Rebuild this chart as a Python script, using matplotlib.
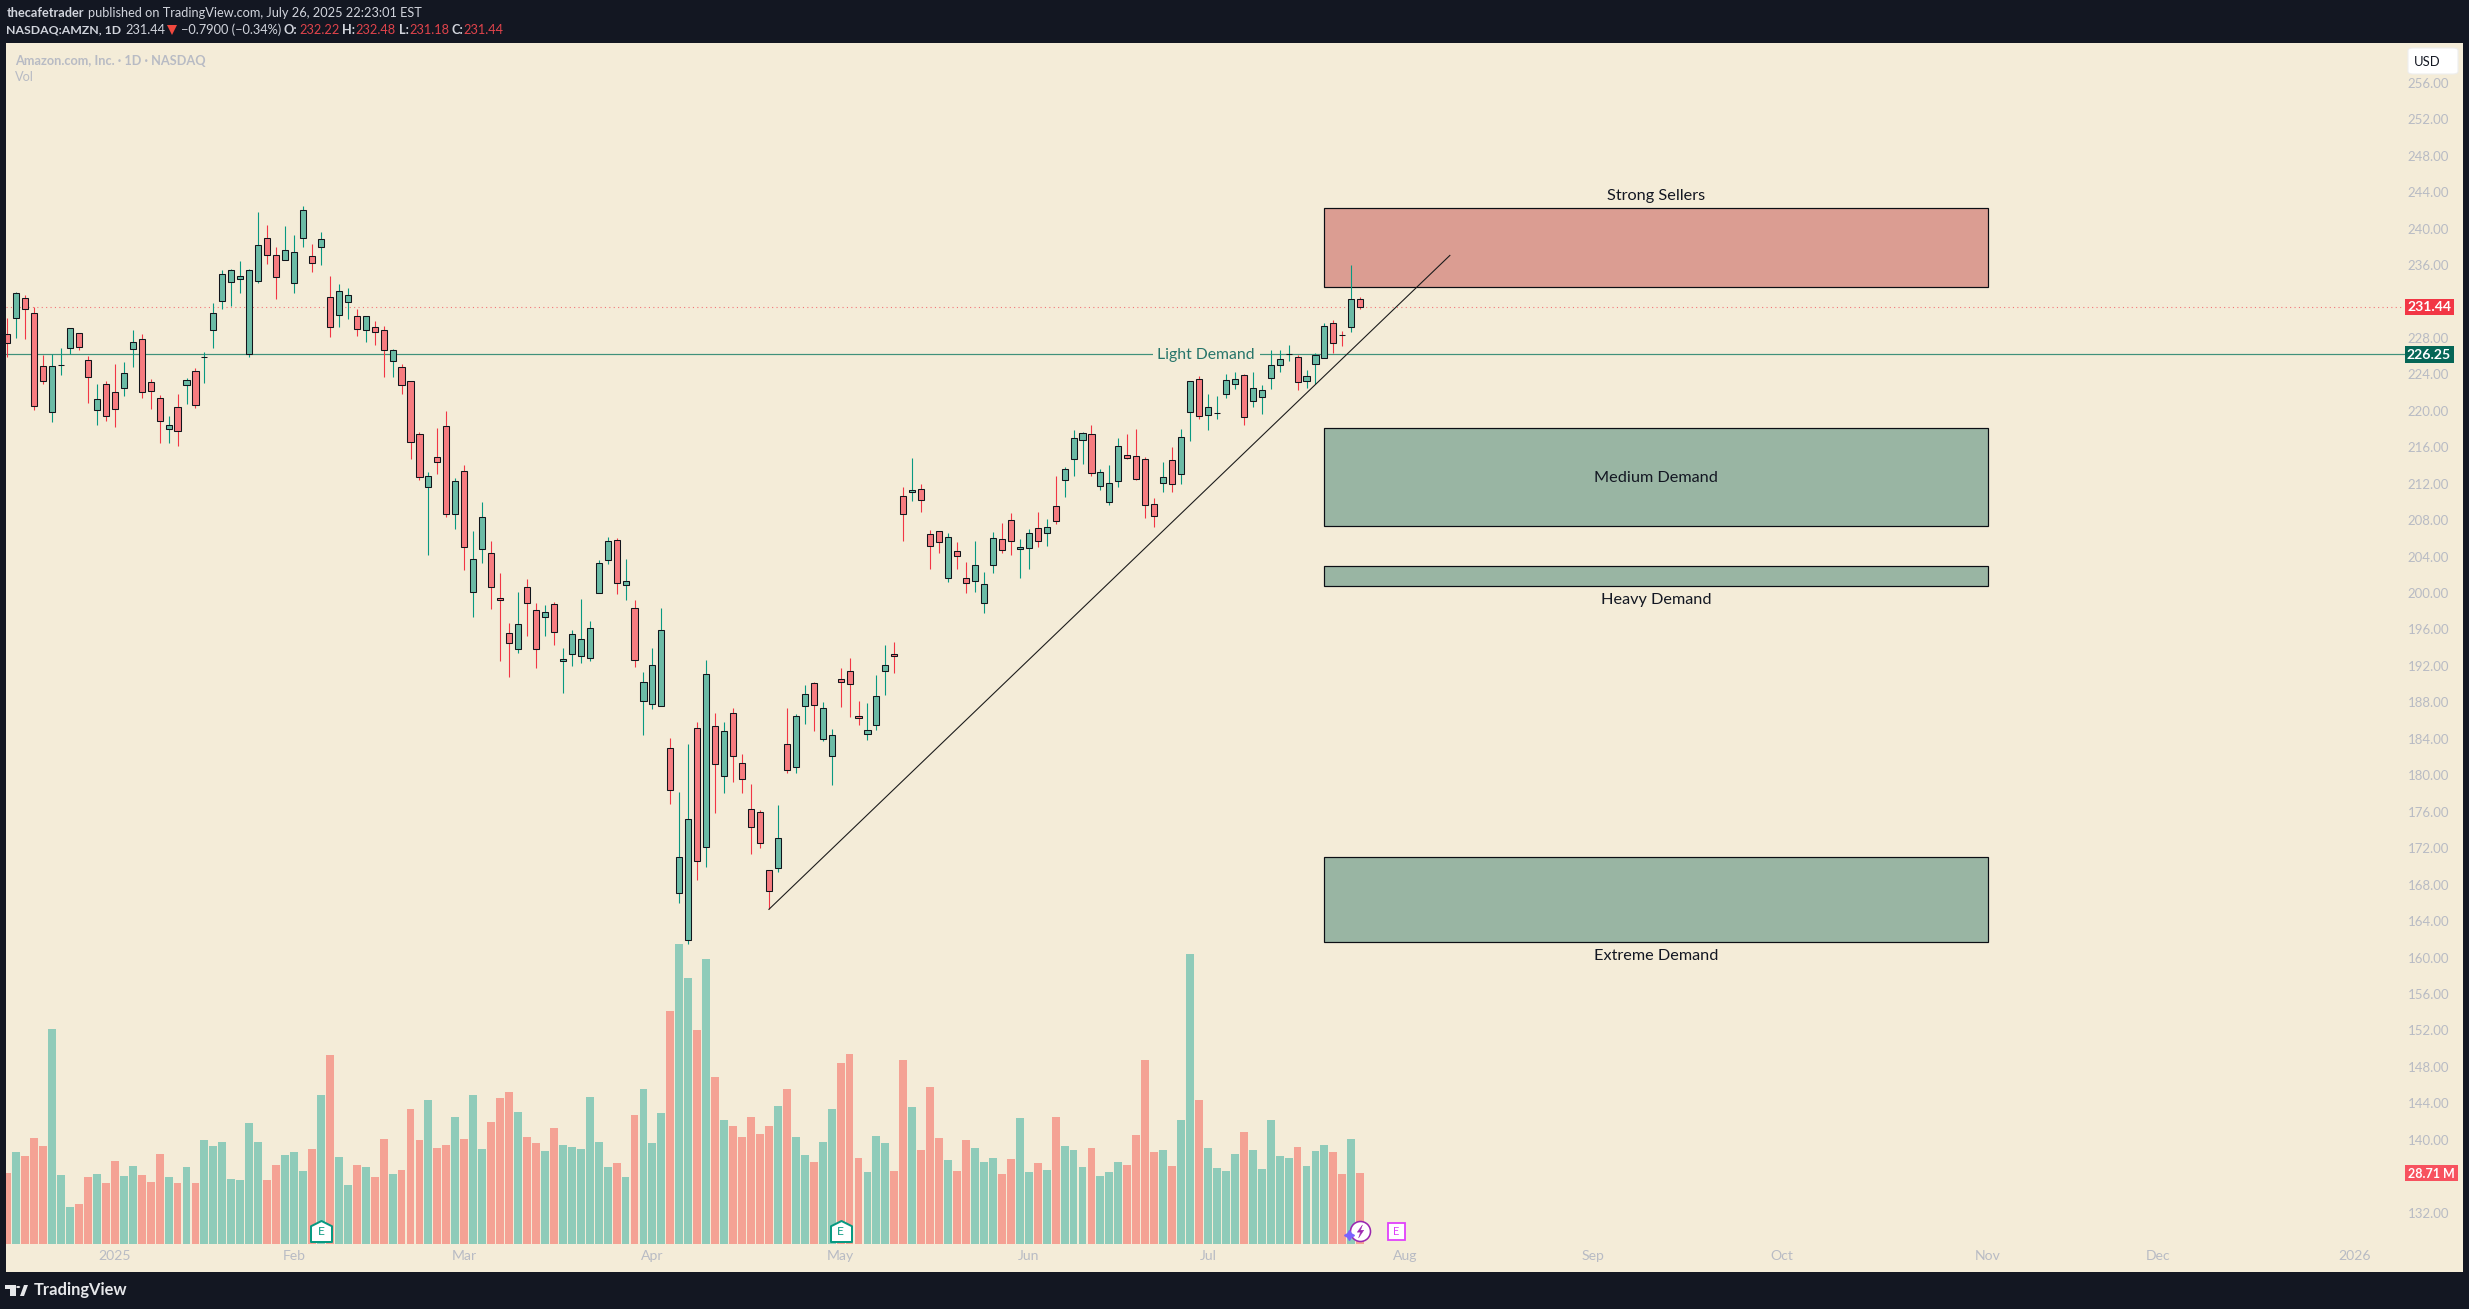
import matplotlib
matplotlib.use("Agg")
import matplotlib.pyplot as plt
from matplotlib.patches import Rectangle, Polygon, Circle, FancyBboxPatch
from matplotlib.path import Path
from matplotlib.transforms import blended_transform_factory as blend

# ---------- data ----------
opens = [228.39,230.14,232.34,230.69,224.87,219.83,224.97,226.85,228.49,225.53,
         220.05,222.90,222.02,222.46,226.74,227.84,223.12,221.36,217.96,220.37,
         222.79,224.33,225.85,228.82,232.01,234.09,234.42,226.19,234.20,238.92,
         237.05,236.51,233.98,238.92,236.94,237.93,232.45,230.47,231.90,230.36,
         228.82,229.15,228.82,225.42,224.76,223.23,217.41,211.60,214.89,218.29,
         208.63,213.35,200.07,204.79,204.35,199.42,195.58,193.82,200.62,198.10,
         197.33,198.76,192.50,193.27,193.05,192.83,199.96,203.59,205.78,200.84,
         198.32,188.12,187.79,187.57,182.96,167.05,161.89,185.15,172.09,185.37,
         179.89,186.80,181.31,176.26,175.94,169.57,169.79,183.40,180.87,187.57,
         190.09,183.95,182.08,190.53,191.41,186.47,184.49,185.48,191.41,193.27,
         210.61,211.05,211.38,206.44,206.77,201.61,204.57,201.61,201.28,198.87,
         203.04,205.89,207.98,204.79,204.90,207.10,206.55,209.51,212.37,214.67,
         216.75,217.41,211.71,209.95,212.26,215.11,215.00,214.67,209.73,212.04,
         214.56,213.02,219.83,223.45,219.50,219.74,221.80,222.90,223.89,221.03,
         221.47,223.56,224.98,226.22,225.86,223.23,225.09,225.75,229.59,228.31,
         229.15,232.22]
highs = [230.14,232.99,232.66,231.38,226.08,226.19,226.85,229.04,228.49,225.97,
         222.90,223.23,225.09,225.31,228.82,228.39,223.45,221.69,219.39,221.80,
         223.56,224.65,226.41,231.79,235.41,235.52,236.40,235.52,241.77,240.35,
         237.93,240.24,239.25,242.43,238.26,239.58,234.75,233.87,233.43,231.13,
         230.36,229.81,229.26,226.74,225.09,223.23,217.63,213.24,218.07,219.94,
         212.58,214.01,206.77,209.95,205.67,202.16,196.67,200.07,201.50,198.87,
         198.65,198.98,193.93,195.90,199.31,196.89,203.59,206.11,206.00,203.70,
         199.20,191.30,193.93,198.32,184.06,178.13,183.40,185.81,192.61,186.80,
         185.81,187.35,182.30,179.01,176.15,169.57,176.70,187.35,186.69,189.87,
         190.20,188.01,185.04,191.74,192.83,188.12,187.90,190.97,194.26,194.59,
         211.60,214.78,211.93,206.88,206.77,206.55,205.56,203.37,205.67,202.27,
         206.66,207.65,208.74,205.89,206.99,208.85,208.09,212.80,213.79,217.85,
         217.63,218.40,213.57,214.01,216.97,217.41,217.96,214.89,210.39,214.34,
         215.99,217.96,223.23,223.78,221.80,221.58,224.00,224.22,224.00,224.22,
         222.79,226.63,226.63,227.18,226.08,224.44,226.30,229.59,229.92,228.72,
         235.96,232.48]
lows = [225.93,228.02,227.91,220.12,222.97,218.80,223.96,226.19,226.70,220.89,
        218.47,218.91,218.25,221.65,224.84,221.44,220.23,216.50,216.50,216.17,
        220.78,220.34,223.08,226.92,231.20,231.53,232.96,225.93,234.05,236.14,
        232.30,236.51,232.96,238.00,235.26,236.03,228.13,229.23,230.10,228.24,
        227.58,227.25,223.74,223.74,221.87,214.70,212.44,204.21,213.10,208.38,
        207.06,202.56,197.40,203.33,198.28,192.58,190.82,193.45,195.32,191.81,
        195.32,194.33,188.99,192.03,192.36,192.58,199.96,203.22,199.93,199.27,
        191.92,184.46,187.24,187.57,176.89,166.02,161.45,168.55,169.97,175.90,
        178.02,179.30,178.02,171.40,172.06,165.29,169.35,180.21,180.21,185.59,
        184.90,183.73,178.90,187.53,186.43,185.55,183.91,185.01,188.85,191.19,
        205.74,210.13,208.93,202.67,204.43,201.25,202.67,200.04,200.15,197.84,
        202.23,204.43,204.21,201.68,202.67,205.09,205.20,207.61,210.57,212.88,
        214.19,212.88,211.34,209.69,211.67,214.67,212.37,208.27,207.28,211.12,
        211.12,212.00,216.72,219.13,217.93,219.13,221.44,222.42,218.47,220.45,
        219.68,222.42,224.29,225.50,222.24,222.53,222.90,225.75,226.37,227.14,
        228.68,231.18]
closes = [227.40,232.88,231.13,220.48,223.23,224.87,224.98,229.04,226.96,223.67,
          221.25,219.39,220.16,224.11,227.51,222.02,222.13,218.84,218.40,217.74,
          223.34,220.59,225.86,230.69,234.97,235.41,234.75,235.41,238.15,237.05,
          234.64,237.60,237.38,241.99,236.18,238.81,229.15,233.10,232.66,228.93,
          230.36,228.60,226.63,226.63,222.79,216.53,212.69,212.80,214.34,208.63,
          212.25,205.01,203.70,208.30,200.62,199.20,194.48,196.56,198.87,193.82,
          197.88,195.68,192.72,195.47,194.92,196.12,203.26,205.67,201.06,201.28,
          192.61,190.20,192.07,195.91,178.35,171.00,175.17,170.56,191.08,181.20,
          184.82,182.08,179.56,174.29,172.53,167.27,173.08,180.54,186.47,188.88,
          187.68,187.35,184.38,190.20,189.98,186.25,184.93,188.66,192.07,193.05,
          208.63,211.27,210.17,205.12,205.56,206.11,204.03,201.06,203.04,200.95,
          206.00,204.68,205.67,205.01,206.55,205.67,207.21,207.87,213.57,216.97,
          217.52,213.13,213.24,212.04,216.10,214.78,212.47,209.62,208.41,212.69,
          211.93,217.08,223.23,219.39,220.38,219.75,223.34,223.45,219.28,222.46,
          222.24,224.98,225.64,226.23,223.12,223.78,226.08,229.26,227.40,228.30,
          232.23,231.44]
volumes = [28.7,37.2,35.6,42.9,39.7,87.0,27.9,15.0,16.2,27.1,
           28.3,24.7,33.6,27.5,31.6,27.9,25.1,36.4,27.1,24.7,
           31.2,24.7,42.1,39.7,41.3,26.3,25.9,49.0,41.3,25.9,
           32.0,36.0,37.2,29.6,38.5,60.3,76.5,35.2,23.9,32.0,
           31.2,27.1,42.5,28.3,30.0,54.7,42.1,58.3,38.9,40.1,
           51.4,42.5,60.3,38.5,49.4,59.1,61.5,53.4,43.3,40.9,
           37.7,47.0,40.1,39.3,38.5,59.5,41.3,31.2,32.8,27.1,
           52.2,62.8,40.9,53.0,94.3,121.5,107.7,86.6,115.4,67.6,
           50.2,47.8,43.3,51.4,44.5,47.8,55.9,62.8,43.3,36.0,
           33.2,41.3,54.7,73.3,76.9,34.8,29.1,43.7,40.9,29.6,
           74.5,55.5,38.1,63.6,42.9,34.0,29.6,42.1,38.9,33.2,
           34.8,28.3,34.4,51.0,29.1,32.8,30.0,51.4,39.7,38.1,
           31.2,38.9,27.5,29.1,33.2,32.0,44.1,74.5,37.2,38.1,
           31.6,50.2,117.4,58.3,38.9,30.8,29.6,36.4,45.3,38.1,
           30.4,50.2,35.6,34.8,39.3,31.6,37.7,40.1,37.2,28.3,
           42.5,28.71]

month_pos = [12, 32, 51, 72, 93, 114, 134, 156, 177, 198, 221, 240, 262]
month_labels = ["2025", "Feb", "Mar", "Apr", "May", "Jun", "Jul", "Aug", "Sep", "Oct", "Nov", "Dec", "2026"]
price_ticks = [132] + list(range(140, 232, 4)) + list(range(236, 257, 4))

zone_start, zone_end = 147.0, 221.1
zone_names = ["Strong Sellers", "Medium Demand", "Heavy Demand", "Extreme Demand"]
zone_tops = [242.25, 218.07, 202.93, 171.08]
zone_bottoms = [233.54, 207.32, 200.77, 161.75]
zone_label_prices = [243.55, 212.57, 199.2, 160.15]
trend_x = [85, 161]
trend_y = [165.29, 237.05]
last_price = 231.44
demand_level = 226.25
earnings_past = [35, 93]
last_volume = 28.71

# ---------- style ----------
W, H = 2469, 1309
L, R, T, B = 6, 2463, 43, 1272
DARK = "#131722"
BG = "#F4ECD8"
FONT = "Lato"
UP_W, DN_W = "#089981", "#F23645"
UP_B, DN_B = "#6BBBA6", "#F77C80"
UP_V, DN_V = "#8FCBB9", "#F4A294"
GREY = "#B8BBC4"
PX = 0.72

fig = plt.figure(figsize=(W / 100, H / 100), dpi=100, facecolor=DARK)
plt.rcParams["font.family"] = [FONT, "DejaVu Sans"]
rect = [L / W, 1 - B / H, (R - L) / W, (B - T) / H]
axv = fig.add_axes(rect, facecolor=BG, zorder=1)
ax = fig.add_axes(rect, facecolor="none", zorder=2)

# axis scales: 8.96 px per bar, 9.113 px per dollar, 2.47 px per million
xlim = (-0.145, 274.07)
ax.set_xlim(xlim)
axv.set_xlim(xlim)
ax.set_ylim(125.49, 260.36)
axv.set_ylim(-11.34, 486.2)
axv.set_xticks([])
axv.set_yticks([])
for a in (ax, axv):
    for s in a.spines.values():
        s.set_visible(False)

xs = list(range(len(opens)))
up = [c >= o for o, c in zip(opens, closes)]

# volume
axv.bar(xs, volumes, width=0.88, color=[UP_V if u else DN_V for u in up], linewidth=0)

# zones
for top, bot, name, lp in zip(zone_tops, zone_bottoms, zone_names, zone_label_prices):
    fc = "#DB9D92" if name == "Strong Sellers" else "#99B5A3"
    ax.add_patch(Rectangle((zone_start, bot), zone_end - zone_start, top - bot,
                           facecolor=fc, edgecolor="#0B0E14", linewidth=1.2 * PX, zorder=1))
    ax.text((zone_start + zone_end) / 2, lp, name, ha="center", va="center",
            fontsize=16.2 * PX, color="#131722", family=FONT, zorder=6)

# horizontal levels
ax.axhline(demand_level, xmin=0, xmax=(2405 - L) / (R - L), color="#3F917B", lw=1.2 * PX, zorder=2)
ax.axhline(last_price, xmin=0, xmax=(2403 - L) / (R - L), color="#F23645", alpha=0.65,
           lw=1.1 * PX, ls=(0, (1, 3)), zorder=2)
ax.text(133.8, demand_level - 0.12, "Light Demand", ha="center", va="center", color="#26756A",
        fontsize=15.8 * PX, family=FONT, zorder=2.5,
        bbox=dict(boxstyle="square,pad=0.3", facecolor=BG, edgecolor="none"))

# candles
ax.vlines(xs, lows, highs, colors=[UP_W if u else DN_W for u in up], lw=1.1 * PX, zorder=3)
ax.bar(xs, [abs(c - o) for o, c in zip(opens, closes)], bottom=[min(o, c) for o, c in zip(opens, closes)],
       width=0.68, color=[UP_B if u else DN_B for u in up], edgecolor="#11141B", linewidth=1.05 * PX, zorder=3.5)

# trend line
ax.plot(trend_x, trend_y, color="#1B1B1B", lw=1.1 * PX, zorder=4)

# event markers (y values sit in the volume pane near its base)
house = Path([(-1, -1), (1, -1), (1, 0.5), (0, 1), (-1, 0.5), (-1, -1)], closed=True)
ax.plot(earnings_past, [130.0] * len(earnings_past), ls="none", marker=house, ms=21 * PX,
        mfc="white", mec="#089981", mew=2 * PX, zorder=5)
for e in earnings_past:
    ax.text(e, 129.9, "E", ha="center", va="center", fontsize=12 * PX, color="#089981", family=FONT, zorder=6)
ax.plot([151], [130.0], ls="none", marker="o", ms=20 * PX, mfc="white", mec="#9C27B0", mew=1.6 * PX, zorder=5)
bolt = Path([(0.3, 1), (-0.5, -0.1), (0, -0.1), (-0.3, -1), (0.5, 0.2), (0, 0.2), (0.3, 1)], closed=True)
ax.plot([151], [130.0], ls="none", marker=bolt, ms=13 * PX, mfc="#9C27B0", mec="#9C27B0", mew=0.3, zorder=6)
ax.plot([149.7], [129.6], ls="none", marker=(4, 1, 0), ms=10 * PX, mfc="#7B61FF", mec="#7B61FF", zorder=6)
ax.plot([155], [130.0], ls="none", marker="s", ms=17 * PX, mfc="white", mec="#E040FB", mew=1.8 * PX, zorder=5)
ax.text(155, 129.9, "E", ha="center", va="center", fontsize=11 * PX, color="#E040FB", family=FONT, zorder=6)

# axes labels (drawn inside the pane as in the source)
ax.yaxis.tick_right()
ax.set_yticks(price_ticks)
ax.set_yticklabels([f"{t:.2f}" for t in price_ticks], family=FONT, fontsize=13.2 * PX, color=GREY)
ax.tick_params(axis="y", length=0, pad=-14 * PX)
for lab in ax.get_yticklabels():
    lab.set_horizontalalignment("right")
ax.set_xticks(month_pos)
ax.set_xticklabels(month_labels, family=FONT, fontsize=14 * PX, color=GREY)
ax.tick_params(axis="x", length=0, pad=-22 * PX)

# price tags
ty = blend(ax.transAxes, ax.transData)
tx0 = (2405 - L) / (R - L)
tw = (2454 - 2405) / (R - L)
for price, col, txt in [(last_price, "#F23645", "231.44"), (demand_level, "#056656", "226.25")]:
    ax.add_patch(Rectangle((tx0, price - 0.98), tw, 1.86, transform=ty, facecolor=col, edgecolor="none",
                           zorder=8, clip_on=False))
    ax.text(tx0 + tw * 0.49, price - 0.1, txt, transform=ty, ha="center", va="center", color="white",
            fontsize=14 * PX, fontweight="bold", family=FONT, zorder=9)
tv = blend(ax.transAxes, axv.transData)
ax.add_patch(Rectangle((tx0, last_volume - 3.4), (2458 - 2405) / (R - L), 6.8, transform=tv, facecolor="#F7525F",
                       edgecolor="none", zorder=8))
ax.text(tx0 + (2458 - 2405) / (R - L) / 2, last_volume - 0.4, f"{last_volume:.2f} M", transform=tv, ha="center", va="center",
        color="white", fontsize=12.5 * PX, fontweight="bold", family=FONT, zorder=9)

# figure-level chrome, in pixel coordinates
fx = lambda p: p / W
fy = lambda p: 1 - p / H
def ft(x, y, s, color, size=14, weight="normal", ha="left"):
    fig.text(fx(x), fy(y), s, color=color, fontsize=size * PX, fontweight=weight, ha=ha, va="center",
             family=FONT, zorder=10)

fig.add_artist(FancyBboxPatch((fx(2408), fy(74)), fx(50), 26 / H, boxstyle="round,pad=0,rounding_size=0.002",
                              transform=fig.transFigure, facecolor="white", edgecolor="#EEEEEE", lw=0.8, zorder=9))
ft(2427, 62, "USD", "#131722", 13, ha="center")

LIGHT = "#D1D4DC"
RED = "#E0434B"
HS = 12.7
ft(6.4, 13, "thecafetrader", LIGHT, HS, "bold")
ft(88, 13, "published on TradingView.com, July 26, 2025 22:23:01 EST", LIGHT, HS)
ft(6.4, 30, "NASDAQ:AMZN, 1D", LIGHT, 12.2, "bold")
ft(125.7, 30, "231.44", LIGHT, HS)
fig.add_artist(Polygon([(fx(167), fy(25)), (fx(177), fy(25)), (fx(172), fy(35))], closed=True,
                       transform=fig.transFigure, facecolor="#F0483E", edgecolor="none", zorder=10))
ft(181, 30, "\u22120.7900 (\u22120.34%)", LIGHT, HS)
for lx, lab, vx, val in [(284, "O:", 299, "232.22"), (342, "H:", 355, "232.48"),
                         (399, "L:", 409, "231.18"), (452, "C:", 463.5, "231.44")]:
    ft(lx, 30, lab, LIGHT, HS, "bold")
    ft(vx, 30, val, RED, HS)
ft(15, 60.7, "Amazon.com, Inc. \u00b7 1D \u00b7 NASDAQ", GREY, 12.7, "bold")
ft(15, 77, "Vol", GREY, 12.7)

# TradingView wordmark and logo
for pts in ([(5.4, 1285), (15.5, 1285), (15.5, 1296), (10, 1296), (10, 1289), (5.4, 1289)],
            [(20, 1296), (24, 1285), (28, 1285), (24, 1296)]):
    fig.add_artist(Polygon([(fx(a), fy(b)) for a, b in pts], closed=True, transform=fig.transFigure,
                           facecolor="#E6E7EA", edgecolor="none", zorder=10))
fig.add_artist(Circle((fx(18.2), fy(1287)), 2 / W, transform=fig.transFigure, facecolor="#E6E7EA", edgecolor="none", zorder=10))
ft(33.5, 1290.5, "TradingView", "#E6E7EA", 16.5, "bold")

fig.savefig("out.png", dpi=100, facecolor=DARK)
